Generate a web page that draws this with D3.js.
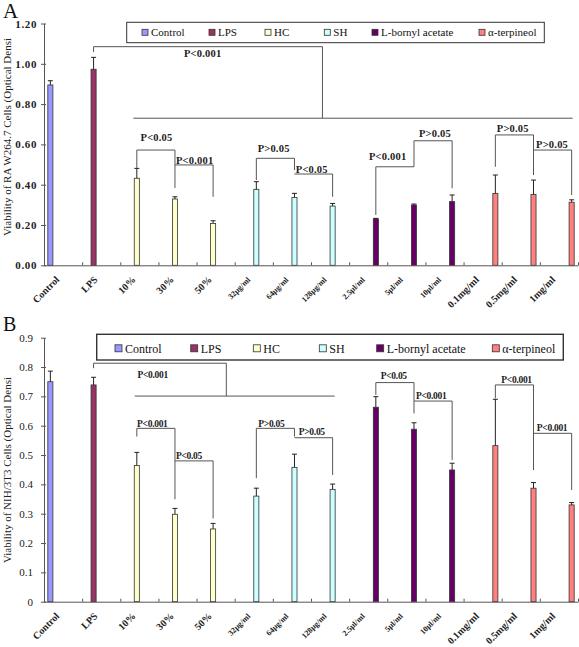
<!DOCTYPE html>
<html><head><meta charset="utf-8">
<script src="https://cdn.jsdelivr.net/npm/d3@7"></script>
<style>body{margin:0;background:#fff}svg{display:block}</style>
</head><body><svg id="c" width="579" height="647"></svg>
<script>
// ---------- data ----------
const categories = ["Control","LPS","10%","30%","50%","32μg/ml","64μg/ml","128μg/ml","2.5μl/ml","5μl/ml","10μl/ml","0.1mg/ml","0.5mg/ml","1mg/ml"];
const smallLabel = [false,false,false,false,false,true,true,true,true,true,true,false,false,false];
const seriesNames = ["Control","LPS","HC","SH","L-bornyl acetate","α-terpineol"];
const seriesOfCategory = [0,1,2,2,2,3,3,3,4,4,4,5,5,5];
const seriesColors = ["#9999FF","#993366","#FFFFCC","#CCFFFF","#660066","#FF8080"];

const valuesA = [0.895,0.973,0.432,0.329,0.208,0.377,0.337,0.294,0.230,0.299,0.316,0.357,0.352,0.313];
const errorsA = [0.021,0.059,0.049,0.011,0.013,0.038,0.020,0.013,0.003,0.005,0.033,0.091,0.071,0.012];
const valuesB = [0.750,0.739,0.464,0.298,0.248,0.360,0.458,0.383,0.663,0.588,0.449,0.532,0.387,0.330];
const errorsB = [0.036,0.026,0.045,0.020,0.019,0.027,0.045,0.018,0.036,0.022,0.023,0.158,0.019,0.008];

const yTicksA = [0,0.2,0.4,0.6,0.8,1.0,1.2];
const yTicksB = [0,0.1,0.2,0.3,0.4,0.5,0.6,0.7,0.8,0.9];
const titleA = "Viability of RA W264.7 Cells (Optical Densi";
const titleB = "Viability of NIH/3T3 Cells (Optical Densi";

// significance brackets (category indices, levels in data units)
const bracketsA = [
  {from:1, toX:7.30, top:1.085, leftEnd:1.058, rightEnd:0.730, label:"P<0.001", lx:4.16, ly:1.053},
  {from:2, to:3, top:0.572, leftEnd:0.483, rightEnd:0.384, label:"P<0.05", lx:2.95, ly:0.637},
  {from:3, to:4, top:0.498, leftEnd:0.498, rightEnd:0.340, label:"P<0.001", lx:3.95, ly:0.523},
  {from:5, to:6, top:0.531, leftEnd:0.423, rightEnd:0.473, label:"P>0.05", lx:6.02, ly:0.582},
  {from:6, to:7, top:0.453, leftEnd:0.453, rightEnd:0.340, label:"P<0.05", lx:7.02, ly:0.476},
  {from:8, to:9, top:0.489, leftEnd:0.250, rightEnd:0.489, label:"P<0.001", lx:9.01, ly:0.539},
  {from:9, to:10, top:0.618, leftEnd:0.489, rightEnd:0.382, label:"P>0.05", lx:10.25, ly:0.655},
  {from:11, to:12, top:0.647, leftEnd:0.489, rightEnd:0.448, label:"P>0.05", lx:12.29, ly:0.680},
  {from:12, to:13, top:0.572, leftEnd:0.572, rightEnd:0.349, label:"P>0.05", lx:13.32, ly:0.602}
];
const spanA = {y:0.730, x1:2.34, x2:13.86};
const bracketsB = [
  {from:1, toX:4.78, top:0.813, leftEnd:0.796, rightEnd:0.701, label:"P<0.001", lx:2.85, ly:0.773},
  {from:2, to:3, top:0.591, leftEnd:0.563, rightEnd:0.349, label:"P<0.001", lx:2.84, ly:0.606},
  {from:3, to:4, top:0.480, leftEnd:0.480, rightEnd:0.284, label:"P<0.05", lx:3.80, ly:0.499},
  {from:5, to:6, top:0.591, leftEnd:0.421, rightEnd:0.563, label:"P>0.05", lx:5.96, ly:0.606},
  {from:6, to:7, top:0.559, leftEnd:0.559, rightEnd:0.432, label:"P>0.05", lx:7.02, ly:0.578},
  {from:8, to:9, top:0.747, leftEnd:0.705, rightEnd:0.642, label:"P<0.05", lx:9.17, ly:0.772},
  {from:9, to:10, top:0.684, leftEnd:0.684, rightEnd:0.483, label:"P<0.001", lx:10.15, ly:0.702},
  {from:11, to:12, top:0.739, leftEnd:0.693, rightEnd:0.449, label:"P<0.001", lx:12.39, ly:0.758},
  {from:12, to:13, top:0.574, leftEnd:0.574, rightEnd:0.381, label:"P<0.001", lx:13.32, ly:0.593}
];
const spanB = {y:0.701, x1:2.38, x2:7.62};

// ---------- drawing ----------
const svg = d3.select("#c");
const SERIF = "'Liberation Serif','Times New Roman',serif";
const LEFT = 44, RIGHT = 578;

function drawPanel(cfg) {
  const g = svg.append("g");
  const y = d3.scaleLinear().domain(cfg.domain).range([cfg.y0, cfg.y1]);
  const x0 = d3.scaleBand().domain(d3.range(categories.length)).range([LEFT, RIGHT]).paddingInner(0).paddingOuter(0);
  const x1 = d3.scaleBand().domain(d3.range(seriesNames.length)).range([0, x0.bandwidth()]).paddingInner(0).paddingOuter(0.75);
  const xc = d3.scaleLinear().domain([0, categories.length]).range([LEFT, RIGHT]);
  const barX = i => x0(i) + x1(seriesOfCategory[i]);
  const barC = i => barX(i) + x1.bandwidth()/2;

  // bars
  g.selectAll("rect.bar").data(cfg.values).join("rect")
    .attr("class","bar")
    .attr("x",(d,i)=>barX(i)).attr("width",x1.bandwidth())
    .attr("y",d=>y(d)).attr("height",d=>y(0)-y(d))
    .attr("fill",(d,i)=>seriesColors[seriesOfCategory[i]])
    .attr("stroke","#333").attr("stroke-width",0.8);

  // error bars (upper only)
  const eg = g.append("g").attr("stroke","#222").attr("stroke-width",1);
  cfg.values.forEach((v,i)=>{
    const e = cfg.errors[i];
    eg.append("line").attr("x1",barC(i)).attr("x2",barC(i)).attr("y1",y(v)).attr("y2",y(v+e));
    eg.append("line").attr("x1",barC(i)-2.5).attr("x2",barC(i)+2.5).attr("y1",y(v+e)).attr("y2",y(v+e));
  });

  // axes
  const ya = d3.axisLeft(y).tickValues(cfg.ticks).tickFormat(cfg.fmt).tickSizeInner(3).tickSizeOuter(0).tickPadding(cfg.tickPad);
  const yg = g.append("g").attr("transform",`translate(${LEFT},0)`).call(ya);
  yg.select(".domain").attr("stroke","#555");
  yg.selectAll(".tick line").attr("x1",2).attr("x2",-3).attr("stroke","#555");
  yg.selectAll(".tick text").attr("font-family",SERIF).attr("font-size",cfg.tickFont)
    .attr("font-weight",cfg.tickWeight).attr("fill","#222").attr("letter-spacing",cfg.tickLS);
  const xa = d3.axisBottom(xc).tickValues(d3.range(categories.length+1)).tickFormat("").tickSizeInner(-3).tickSizeOuter(0);
  const xg = g.append("g").attr("transform",`translate(0,${cfg.y0})`).call(xa);
  xg.select(".domain").attr("stroke","#555");
  xg.selectAll(".tick line").attr("stroke","#555");

  // category labels
  g.selectAll("text.cat").data(categories).join("text")
    .attr("class","cat")
    .attr("transform",(d,i)=>`translate(${x0(i)+x0.bandwidth()/2-3},${cfg.y0+15}) rotate(-45)`)
    .attr("text-anchor","end")
    .attr("font-family",SERIF).attr("font-weight","bold")
    .attr("font-size",(d,i)=>smallLabel[i]?8:10).attr("fill","#222")
    .text(d=>d);

  // y title
  g.append("text").attr("transform",`translate(11,${cfg.titleY}) rotate(-90)`)
    .attr("text-anchor","middle").attr("font-family",SERIF).attr("font-size",11).attr("fill","#222")
    .text(cfg.title);

  // panel letter
  g.append("text").attr("x",3).attr("y",cfg.letterY).attr("font-family",SERIF)
    .attr("font-size",cfg.letterSize).attr("fill","#111").text(cfg.letter);

  // brackets
  const bg = g.append("g").attr("fill","none").attr("stroke","#555").attr("stroke-width",1);
  cfg.brackets.forEach(b=>{
    const xl = barC(b.from);
    const xr = (b.to !== undefined) ? barC(b.to) : xc(b.toX);
    bg.append("path").attr("d",`M${xl},${y(b.leftEnd)}V${y(b.top)}H${xr}V${y(b.rightEnd)}`);
    g.append("text").attr("x",xc(b.lx)).attr("y",y(b.ly)).attr("dy","0.35em")
      .attr("text-anchor","middle").attr("font-family",SERIF).attr("font-weight","bold")
      .attr("font-size",cfg.pFont).attr("letter-spacing",cfg.pLS).attr("fill","#222").text(b.label);
  });
  bg.append("line").attr("x1",xc(cfg.span.x1)).attr("x2",xc(cfg.span.x2))
    .attr("y1",y(cfg.span.y)).attr("y2",y(cfg.span.y));

  // legend
  const L = cfg.legend;
  g.append("rect").attr("x",L.x).attr("y",L.y).attr("width",L.w).attr("height",L.h)
    .attr("fill","#fff").attr("stroke","#333").attr("stroke-width",L.sw);
  seriesNames.forEach((s,k)=>{
    const sx = L.items[k];
    g.append("rect").attr("x",sx).attr("y",L.cy-L.sq/2).attr("width",L.sq).attr("height",L.sq)
      .attr("fill",seriesColors[k]).attr("stroke","#333").attr("stroke-width",0.8);
    g.append("text").attr("x",sx+L.sq+3).attr("y",L.cy).attr("dy","0.35em")
      .attr("font-family",SERIF).attr("font-size",L.font).attr("fill","#111").text(s);
  });
}

drawPanel({
  domain:[0,1.2], y0:265.3, y1:23.5, values:valuesA, errors:errorsA, ticks:yTicksA,
  fmt:d3.format(".2f"), tickFont:11, tickWeight:"bold", tickLS:0.6, tickPad:4,
  title:titleA, titleY:137, letter:"A", letterY:18, letterSize:21,
  brackets:bracketsA, span:spanA, pFont:10.5, pLS:0.2,
  legend:{x:126.7, y:22.3, w:417.6, h:20.4, sw:1, cy:32.3, sq:6, font:11,
          items:[142,209,265,324.3,372,479]}
});
drawPanel({
  domain:[0,0.9], y0:601.7, y1:337.7, values:valuesB, errors:errorsB, ticks:yTicksB,
  fmt:d=>d===0?"0":d.toFixed(1), tickFont:11, tickWeight:"normal", tickLS:0, tickPad:8,
  title:titleB, titleY:470, letter:"B", letterY:331, letterSize:20,
  brackets:bracketsB, span:spanB, pFont:9.5, pLS:-0.3,
  legend:{x:96.7, y:334.3, w:466.6, h:25.7, sw:1.4, cy:348.3, sq:7, font:12,
          items:[115,190.7,253.3,319.3,376.7,492.3]}
});
</script></body></html>
